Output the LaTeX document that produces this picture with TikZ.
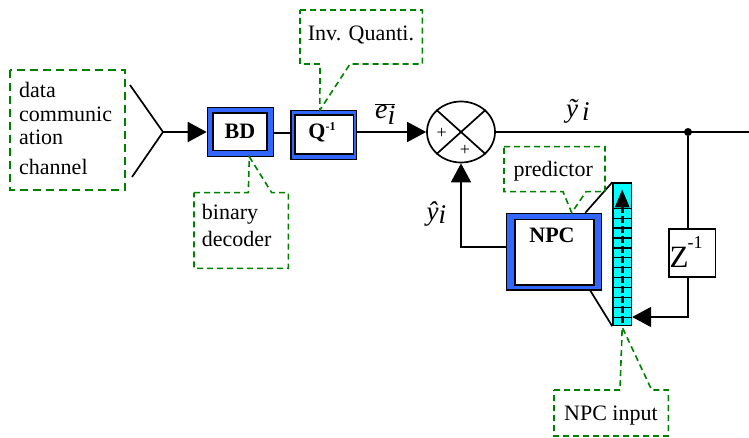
\documentclass[tikz,border=0pt]{standalone}
\usepackage{fontspec}
\setmainfont{Liberation Serif}
\usetikzlibrary{arrows.meta,shapes.geometric,calc}
\definecolor{boxblue}{RGB}{51,102,255}
\definecolor{cellcyan}{RGB}{0,255,255}
\definecolor{notegreen}{RGB}{0,128,0}

\begin{document}
\begin{tikzpicture}[x=1pt,y=-1pt,
  wire/.style={line width=1.7pt},
  arr/.style={wire,-{Triangle[length=19pt,width=20pt]}},
  note/.style={draw=notegreen,line width=1.6pt,dash pattern=on 6pt off 4pt},
  chan/.style={draw=notegreen,line width=2.6pt,dash pattern=on 8pt off 5pt},
  txt/.style={anchor=base west,inner sep=0pt,font=\rmfamily\fontsize{22}{26}\selectfont},
  boldtxt/.style={anchor=base,inner sep=0pt,font=\rmfamily\fontsize{22}{26}\selectfont\bfseries},
  mathtxt/.style={anchor=base west,inner sep=0pt,font=\rmfamily\fontsize{27}{27}\selectfont\itshape},
  plus/.style={inner sep=0pt,font=\rmfamily\fontsize{18}{18}\selectfont},
  outerbox/.style={draw=black,line width=1.2pt,fill=boxblue,inner sep=0pt},
  innerbox/.style={draw=black,line width=1.2pt,fill=white,inner sep=0pt},
]
\useasboundingbox (0,0) rectangle (749,438);

% ---- data source (dashed note) ----
\draw[chan] (10,70) rectangle (125,190);
\node[txt] (d1) at (19,97.3) {data};
\node[txt] (d2) at (19,121.7) {communic};
\node[txt] (d3) at (19,145) {ation};
\node[txt] (d4) at (19,175) {channel};

% ---- channel fork ----
\coordinate (fa) at (130,85);
\coordinate (fb) at (132,177);
\coordinate (fork) at (163,132);

% ---- binary decoder ----
\node[outerbox,minimum width=66pt,minimum height=49pt] (bd) at (240.3,131.7) {};
\node[innerbox,minimum width=54pt,minimum height=37.7pt] (bdin) at (240,131.9) {};
\node[boldtxt] (bdt) at (240,138.5) {BD};

% ---- inverse quantiser ----
\node[outerbox,minimum width=65.7pt,minimum height=48.6pt] (q) at (323.9,135) {};
\node[innerbox,minimum width=58.3pt,minimum height=39pt] (qin) at (324.2,134.5) {};
\node[boldtxt] (qt) at (322,138.5) {Q\raisebox{8pt}{\fontsize{12}{12}\selectfont -1}};

% ---- summing junction ----
\node[ellipse,draw,line width=1.7pt,fill=white,minimum width=68pt,minimum height=61pt,inner sep=0pt] (sum) at (461,132) {};
\draw[wire] (sum.north west) -- (sum.south east);
\draw[wire] (sum.north east) -- (sum.south west);
\node[plus] (pl) at (441.7,133.3) {+};
\node[plus] (pb) at (465,150) {+};

% ---- output and feedback branch ----
\coordinate (outend) at (749,132);
\node[circle,fill=black,inner sep=0pt,minimum size=8pt] (jn) at (688,132) {};
\node[draw,line width=1.4pt,fill=white,minimum width=46.7pt,minimum height=48.3pt,inner sep=0pt] (z) at (692.3,253) {};
\node[anchor=base west,inner sep=0pt,font=\rmfamily\fontsize{31}{31}\selectfont] (zt) at (669.5,268) {Z};
\node[anchor=base west,inner sep=0pt,font=\rmfamily\fontsize{18}{18}\selectfont] (zs) at (687.5,248) {-1};
\coordinate (fbc) at (688,317);

% ---- NPC and its input window ----
\node[outerbox,minimum width=95pt,minimum height=76.7pt] (npc) at (554.2,251.7) {};
\node[innerbox,minimum width=79pt,minimum height=65.7pt] (npcin) at (554.5,252.2) {};
\node[boldtxt] (npct) at (552,242.3) {NPC};

\node[draw,line width=1.4pt,fill=cellcyan,minimum width=18.5pt,minimum height=142.5pt,inner sep=0pt] (col) at (622.2,254.25) {};
\foreach \k in {0,...,11}
  \draw[line width=1.3pt] ([yshift={-26pt-\k*9.9pt}]col.north west) -- ([yshift={-26pt-\k*9.9pt}]col.north east);
\draw[line width=3.2pt,dash pattern=on 7pt off 3pt,-{Triangle[length=18pt,width=14pt]}]
  ([yshift=3pt]col.south) -- ([yshift=-7pt]col.north);

% ---- connectors ----
\draw[wire] (fa) -- (fork) -- (fb);
\draw[arr] (fork) -- (fork -| bd.west);
\draw[wire] (bd.east |- 0,133) -- (q.west |- 0,133);
\draw[arr] (q.east |- sum.west) -- (sum.west);
\draw[wire] (sum.east) -- (outend);
\draw[wire] (jn) -- (jn |- z.north);
\draw[arr] (jn |- z.south) -- (fbc) -- (fbc -| col.east);
\draw[arr] ([yshift=5pt]npc.west) -| (sum.south);
\draw[wire] ([xshift=-17pt]npc.north east) -- (col.north west);
\draw[wire] ([xshift=-12pt]npc.south east) -- (col.south west);

% ---- signal labels ----
\node[mathtxt,font=\rmfamily\fontsize{28}{28}\selectfont\itshape] (ebar) at (375,118.3) {$\overline{\mbox{e\raisebox{-6pt}{i}}}$};
\node[mathtxt] (ytil) at (566,118) {\~y\hspace{4pt}\raisebox{-3pt}{i}};
\node[mathtxt] (yhat) at (426.5,221) {\^y\raisebox{-3pt}{i}};

% ---- callout notes ----
\coordinate (tq) at ([xshift=-4pt]q.north);
\draw[note] (300,10) -- (422.3,10) -- (422.3,64) -- (350,64) -- (tq) -- (320,64) -- (300,64) -- cycle;
\node[txt] (nq) at (307.7,40.5) {Inv. Quanti.};

\coordinate (tb) at ([xshift=9pt]bd.south);
\draw[note] (194,192.7) -- (248.3,192.7) -- (tb) -- (271.7,192.7) -- (288.3,192.7) -- (288.3,268.3) -- (194,268.3) -- cycle;
\node[txt] (nb1) at (201.7,220) {binary};
\node[txt] (nb2) at (201.7,247) {decoder};

\coordinate (tp) at ([xshift=17.5pt]npc.north);
\draw[note] (504,146.7) -- (605,146.7) -- (605,191.7) -- (586,191.7) -- (tp) -- (563,191.7) -- (504,191.7) -- cycle;
\begin{scope}
  \clip (505,148) rectangle (594,190);
  \node[txt] (np) at (513.3,176.7) {predictor};
\end{scope}

\coordinate (ti) at ([yshift=-1pt]col.south);
\draw[note] (554,390) -- (620,390) -- (ti) -- (651.7,390) -- (668.3,390) -- (668.3,436) -- (554,436) -- cycle;
\node[txt] (ni) at (564,420.7) {NPC input};
\end{tikzpicture}
\end{document}
